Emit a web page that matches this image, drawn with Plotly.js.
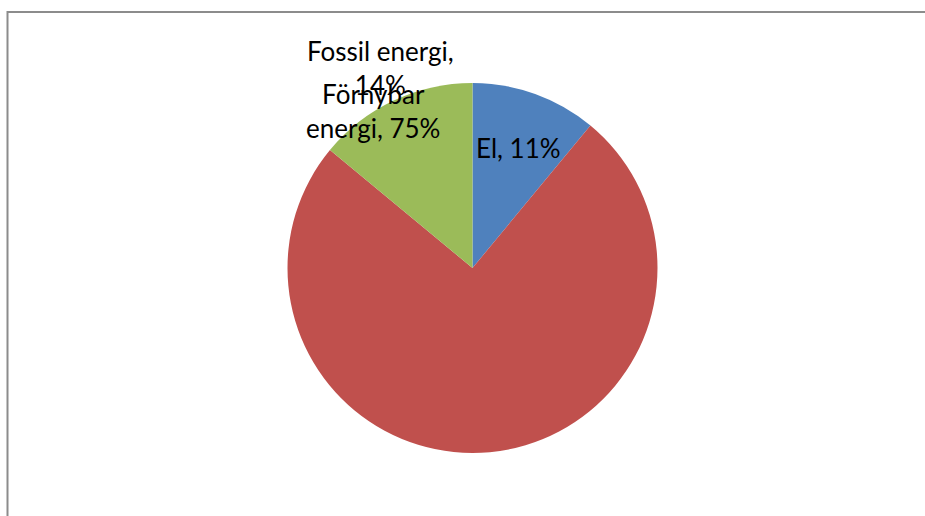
<!DOCTYPE html>
<html>
<head>
<meta charset="utf-8">
<script src="https://cdn.plot.ly/plotly-3.0.1.min.js"></script>
<style>html,body{margin:0;padding:0;background:#fff;}#chart{width:925px;height:516px;}</style>
</head>
<body>
<div id="chart"></div>
<script>
const labels = ["El", "Förnybar energi", "Fossil energi"];
const values = [11, 75, 14];
const colors = ["#4F81BD", "#C0504D", "#9BBB59"];
// label anchor positions (paper coords, px from left / top)
const labelPosX = [518, 373, 380];
const labelPosY = [148, 111, 68];

function wrap(str, maxChars) {
  const words = str.split(" ");
  const lines = [];
  let cur = "";
  words.forEach(w => {
    const test = cur ? cur + " " + w : w;
    if (test.length > maxChars && cur) { lines.push(cur); cur = w; }
    else cur = test;
  });
  if (cur) lines.push(cur);
  return lines.join("<br>");
}

const W = 925, H = 516;
const cx = 472.5, cy = 268, r = 185;

const annotations = labels.map((l, i) => ({
  text: wrap(l + ", " + values[i] + "%", 14),
  x: labelPosX[i] / W, y: 1 - labelPosY[i] / H,
  xref: "paper", yref: "paper",
  xanchor: "center", yanchor: "middle",
  showarrow: false,
  font: {family: "Lato, Liberation Sans, Arial, sans-serif", size: 26, color: "#000"}
}));

const data = [{
  type: "pie",
  labels: labels,
  values: values,
  sort: false,
  direction: "clockwise",
  rotation: 0,
  marker: {colors: colors, line: {width: 0}},
  textinfo: "none",
  hoverinfo: "none",
  showlegend: false,
  domain: {x: [(cx - r) / W, (cx + r) / W], y: [1 - (cy + r) / H, 1 - (cy - r) / H]}
}];

const layout = {
  width: W, height: H,
  margin: {l: 0, r: 0, t: 0, b: 0},
  paper_bgcolor: "#fff",
  showlegend: false,
  annotations: annotations,
  shapes: [
    {type: "line", xref: "paper", yref: "paper", x0: 7.5 / W, x1: 1, y0: 1 - 12 / H, y1: 1 - 12 / H, line: {color: "#8c8c8c", width: 2}},
    {type: "line", xref: "paper", yref: "paper", x0: 7.5 / W, x1: 7.5 / W, y0: 1 - 11 / H, y1: 0, line: {color: "#8c8c8c", width: 2}}
  ]
};

Plotly.newPlot("chart", data, layout, {displayModeBar: false, staticPlot: true});
</script>
</body>
</html>
